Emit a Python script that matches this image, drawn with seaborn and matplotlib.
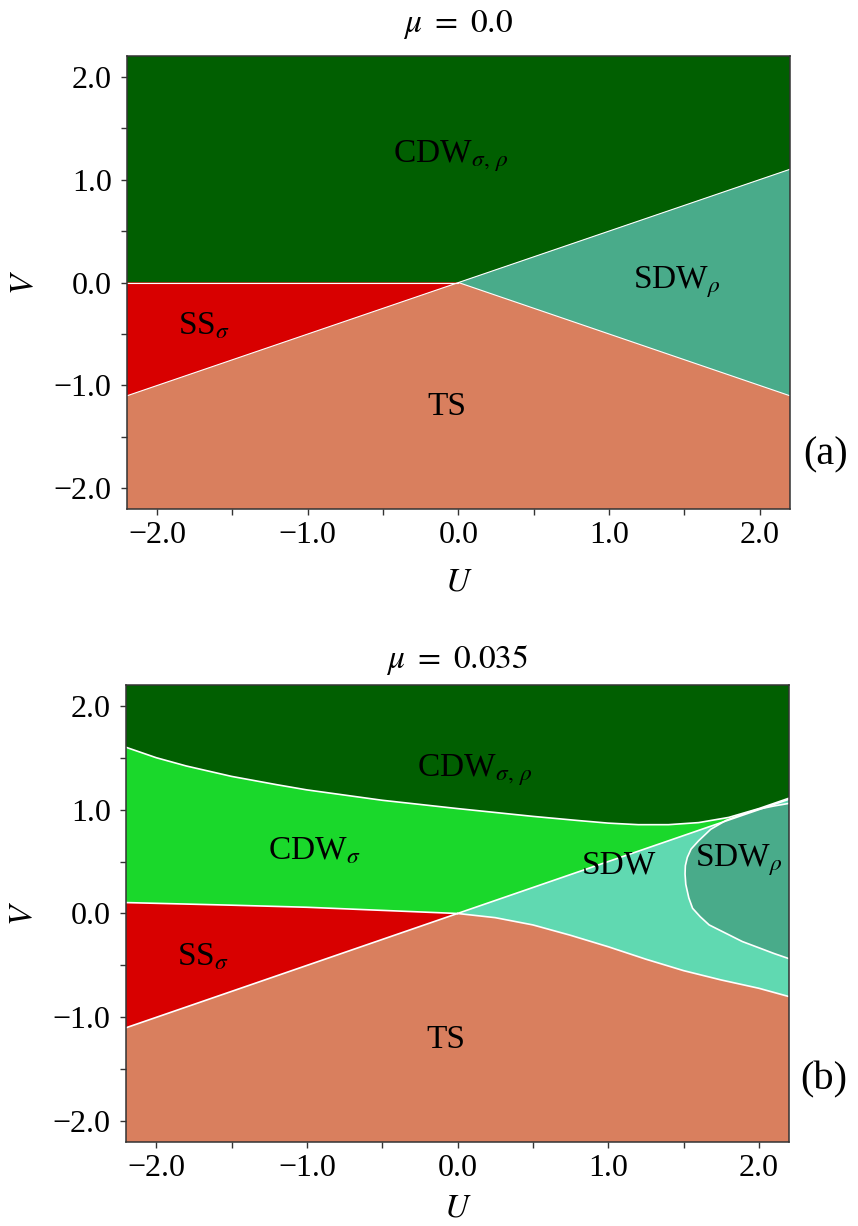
import numpy as np
import seaborn as sns
import matplotlib
matplotlib.use('Agg')
import matplotlib.pyplot as plt
from matplotlib.ticker import MultipleLocator

# phase colours
cores = {
    'CDW_sr': '#015f01',
    'CDW_s': '#1ad82b',
    'SS': '#d80000',
    'TS': '#d97f5e',
    'SDW': '#60d9b1',
    'SDW_r': '#49ab8a',
}

# --- painel (a): mu = 0.0, fronteiras ---
a_cdw_ss_U = [-2.2, 0.0]
a_cdw_ss_V = [0.0, 0.0]
a_ss_ts_U = [-2.2, 0.0]
a_ss_ts_V = [-1.1, 0.0]
a_cdw_sdw_U = [0.0, 2.2]
a_cdw_sdw_V = [0.0, 1.1]
a_sdw_ts_U = [0.0, 2.2]
a_sdw_ts_V = [0.0, -1.1]

# --- painel (b): mu = 0.035 ---
b_topo_U = [-2.2, -2.0, -1.8, -1.5, -1.2, -1.0, -0.5, 0.0, 0.5, 0.8, 1.0, 1.2, 1.4, 1.6, 1.8, 2.0, 2.2]
b_topo_V = [1.60, 1.50, 1.42, 1.32, 1.24, 1.19, 1.09, 1.01, 0.935, 0.895, 0.87, 0.855, 0.855, 0.875, 0.925, 1.01, 1.11]
b_ss_cdw_U = [-2.2, -1.5, -1.0, -0.5, 0.0]
b_ss_cdw_V = [0.105, 0.08, 0.06, 0.03, 0.0]
b_ss_ts_U = [-2.2, 0.0]
b_ss_ts_V = [-1.1, 0.0]
b_diag_U = [0.0, 2.2]
b_diag_V = [0.0, 1.1]
b_sdw_ts_U = [0.0, 0.25, 0.5, 0.75, 1.0, 1.25, 1.5, 1.75, 2.0, 2.2]
b_sdw_ts_V = [0.0, -0.04, -0.11, -0.21, -0.32, -0.44, -0.55, -0.64, -0.72, -0.80]
b_sdwr_U = [2.2, 2.1, 2.0, 1.9, 1.78, 1.68, 1.60, 1.55, 1.525, 1.512, 1.51, 1.515,
            1.535, 1.56, 1.61, 1.67, 1.78, 1.89, 2.0, 2.1, 2.2]
b_sdwr_V = [1.06, 1.035, 1.005, 0.96, 0.895, 0.81, 0.70, 0.62, 0.54, 0.46, 0.38, 0.28,
            0.15, 0.05, -0.03, -0.11, -0.19, -0.27, -0.33, -0.385, -0.435]

lim = 2.2
ticks = [-2.0, -1.0, 0.0, 1.0, 2.0]
tick_labels = ['\u22122.0', '\u22121.0', '0.0', '1.0', '2.0']

sns.set_style('ticks')
plt.rcParams['font.family'] = ['Liberation Serif', 'DejaVu Serif']
plt.rcParams['mathtext.fontset'] = 'stix'
for k in ['text.color', 'axes.labelcolor', 'xtick.labelcolor', 'ytick.labelcolor']:
    plt.rcParams[k] = 'black'

fig = plt.figure(figsize=(8.58, 12.26), dpi=100)
ax_a = fig.add_axes([0.1480, 0.5848, 0.7727, 0.3695])
ax_b = fig.add_axes([0.1469, 0.0685, 0.7727, 0.3728])


def poligono(ax, U, V, cor):
    ax.fill(U, V, color=cor, lw=0, zorder=1)


def fronteira(ax, U, V, lw):
    sns.lineplot(x=U, y=V, ax=ax, color='white', lw=lw, sort=False,
                 estimator=None, zorder=3)


def eixos(ax, titulo, letra, ypos, tpad, xpad):
    ax.set_xlim(-lim, lim)
    ax.set_ylim(-lim, lim)
    ax.set_xticks(ticks)
    ax.set_xticklabels(tick_labels)
    ax.set_yticks(ticks)
    ax.set_yticklabels(tick_labels)
    ax.xaxis.set_minor_locator(MultipleLocator(0.5))
    ax.yaxis.set_minor_locator(MultipleLocator(0.5))
    ax.tick_params(which='both', direction='out', length=4.5, width=1,
                   color='#333333', labelsize=23)
    ax.tick_params(axis='x', pad=4)
    ax.tick_params(axis='y', pad=6.5)
    for s in ax.spines.values():
        s.set_color('#333333')
        s.set_linewidth(1.1)
        s.set_zorder(5)
    ax.set_xlabel(r'$U$', fontsize=24, labelpad=xpad)
    ax.set_ylabel(r'$V$', fontsize=24, labelpad=10)
    ax.set_title(titulo, fontsize=24, pad=tpad)
    ax.text(1.053, ypos, letra, transform=ax.transAxes, fontsize=29,
            ha='center', va='center')


# painel (a)
ax_a.set_facecolor(cores['TS'])
poligono(ax_a, [-lim, -lim, lim, lim, 0.0, -lim], [0.0, lim, lim, 1.1, 0.0, 0.0], cores['CDW_sr'])
poligono(ax_a, [-lim, 0.0, -lim], [0.0, 0.0, -1.1], cores['SS'])
poligono(ax_a, [0.0, lim, lim], [0.0, 1.1, -1.1], cores['SDW_r'])
for U, V in [(a_cdw_ss_U, a_cdw_ss_V), (a_ss_ts_U, a_ss_ts_V),
             (a_cdw_sdw_U, a_cdw_sdw_V), (a_sdw_ts_U, a_sdw_ts_V)]:
    fronteira(ax_a, U, V, 0.8)

fs = 24
ax_a.text(-0.05, 1.23, r'CDW$_{\sigma,\,\rho}$', fontsize=fs, ha='center', va='center')
ax_a.text(1.45, 0.0, r'SDW$_{\rho}$', fontsize=fs, ha='center', va='center')
ax_a.text(-1.69, -0.42, r'SS$_{\sigma}$', fontsize=fs, ha='center', va='center')
ax_a.text(-0.08, -1.21, 'TS', fontsize=fs, ha='center', va='center')
eixos(ax_a, r'$\mu\ =\ 0.0$', '(a)', 0.119, 17, 12)

# painel (b)
ax_b.set_facecolor(cores['TS'])
poligono(ax_b, b_topo_U + [lim, -lim], b_topo_V + [lim, lim], cores['CDW_sr'])
poligono(ax_b, b_topo_U + b_diag_U[::-1] + b_ss_cdw_U[::-1],
         b_topo_V + b_diag_V[::-1] + b_ss_cdw_V[::-1], cores['CDW_s'])
poligono(ax_b, b_ss_cdw_U + b_ss_ts_U[::-1], b_ss_cdw_V + b_ss_ts_V[::-1], cores['SS'])
poligono(ax_b, b_diag_U + b_sdw_ts_U[::-1], b_diag_V + b_sdw_ts_V[::-1], cores['SDW'])
poligono(ax_b, b_sdwr_U, b_sdwr_V, cores['SDW_r'])
for U, V in [(b_topo_U, b_topo_V), (b_ss_cdw_U, b_ss_cdw_V), (b_ss_ts_U, b_ss_ts_V),
             (b_diag_U, b_diag_V), (b_sdw_ts_U, b_sdw_ts_V), (b_sdwr_U, b_sdwr_V)]:
    fronteira(ax_b, U, V, 1.2)

ax_b.text(0.11, 1.38, r'CDW$_{\sigma,\,\rho}$', fontsize=fs, ha='center', va='center')
ax_b.text(-0.95, 0.60, r'CDW$_{\sigma}$', fontsize=fs, ha='center', va='center')
ax_b.text(1.07, 0.46, 'SDW', fontsize=fs, ha='center', va='center')
ax_b.text(1.87, 0.51, r'SDW$_{\rho}$', fontsize=fs, ha='center', va='center')
ax_b.text(-1.69, -0.42, r'SS$_{\sigma}$', fontsize=fs, ha='center', va='center')
ax_b.text(-0.08, -1.22, 'TS', fontsize=fs, ha='center', va='center')
eixos(ax_b, r'$\mu\ =\ 0.035$', '(b)', 0.136, 12, 7)

fig.savefig('out.png', dpi=100)
